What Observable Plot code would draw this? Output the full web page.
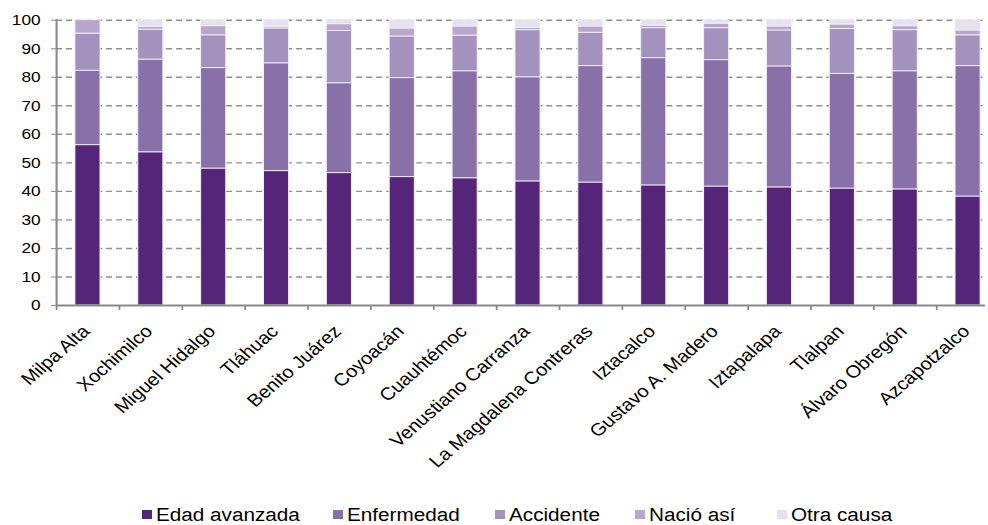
<!DOCTYPE html>
<html>
<head>
<meta charset="utf-8">
<script src="https://cdn.jsdelivr.net/npm/d3@7"></script>
<script src="https://cdn.jsdelivr.net/npm/@observablehq/plot@0.6"></script>
<style>
  html, body { margin: 0; padding: 0; background: #fff; }
  #wrap { width: 988px; position: relative; font-family: "Liberation Sans", Arial, sans-serif; }
  #legend { position: relative; width: 988px; height: 35px; }
  .item { position: absolute; top: 0; height: 35px; }
  .sw { position: absolute; top: 20px; left: 0; width: 10px; height: 9px; }
  .lab { position: absolute; top: 16px; left: 14px; font-size: 18px; line-height: 18px; white-space: nowrap;
         transform: scaleX(1.15); transform-origin: 0 0; color: #000; }
</style>
</head>
<body>
<div id="wrap"></div>
<script>
// ---- data ----
const districts = ["Milpa Alta","Xochimilco","Miguel Hidalgo","Tláhuac","Benito Juárez","Coyoacán","Cuauhtémoc","Venustiano Carranza","La Magdalena Contreras","Iztacalco","Gustavo A. Madero","Iztapalapa","Tlalpan","Álvaro Obregón","Azcapotzalco"];
const causes = ["Edad avanzada","Enfermedad","Accidente","Nació así","Otra causa"];
const edadAvanzada = [56.2,53.7,48.0,47.1,46.4,45.0,44.6,43.5,43.1,42.1,41.7,41.4,41.0,40.7,38.2];
const enfermedad   = [26.1,32.5,35.2,37.8,31.5,34.7,37.5,36.5,40.8,44.6,44.3,42.4,40.2,41.4,45.7];
const accidente    = [13.0,10.5,11.5,12.2,18.3,14.6,12.5,16.5,11.7,10.5,11.2,12.6,15.7,14.4,10.8];
const nacioAsi     = [4.7,1.0,3.2,0.6,2.4,2.8,3.2,0.8,2.2,0.9,1.6,1.4,1.6,1.4,1.7];
const otraCausa    = [0.0,2.3,2.1,2.3,1.4,2.9,2.2,2.7,2.2,1.9,1.2,2.2,1.5,2.1,3.6];
const yTicks = [0,10,20,30,40,50,60,70,80,90,100];
const colors = ["#55257a","#8870a8","#a492be","#b8a7cc","#e7e1ef"];

// ---- layout ----
const S = 1.15;              // horizontal stretch of the reference
const W = 988, H = 490;
const w = W / S;
const series = [edadAvanzada, enfermedad, accidente, nacioAsi, otraCausa];
const rows = [];
causes.forEach((c, ci) => districts.forEach((d, di) => rows.push({district: d, cause: c, value: series[ci][di]})));

const x0 = 56 / S, x1 = 999 / S;
const step = (x1 - x0) / districts.length;

const svg = Plot.plot({
  width: w,
  height: H,
  marginTop: 19.7,
  marginBottom: H - 305,
  marginLeft: x0,
  marginRight: w - 985 / S,
  style: {fontFamily: '"Liberation Sans", Arial, sans-serif', background: "#fff", color: "#000", overflow: "visible"},
  x: {type: "band", domain: districts, range: [x0, x1], paddingInner: 0.6, paddingOuter: 0.3, round: false, axis: null},
  y: {domain: [0, 100]},
  color: {domain: causes, range: colors},
  marks: [
    Plot.gridY(yTicks.slice(1), {stroke: "#8f8f8f", strokeOpacity: 1, strokeWidth: 1.4, strokeDasharray: "5.2,3.5"}),
    Plot.barY(rows, {x: "district", y: "value", fill: "cause", order: causes, stroke: "#f3eff7", strokeWidth: 0.9}),
    Plot.ruleY([0], {stroke: "#8a8a8a", strokeWidth: 2}),
    Plot.frame({anchor: "left", stroke: "#8a8a8a", strokeWidth: 1.8}),
    Plot.ruleX(districts, {x: d => d, y1: 0, y2: -5 / 2.853, dx: -step / 2, stroke: "#8a8a8a", strokeWidth: 1.5}),
    Plot.axisY({ticks: yTicks, tickSize: 5 / S, tickPadding: 9.5, fontSize: 15, label: null, stroke: "#8a8a8a", fill: "#000", tickFormat: d => String(d)}),
    Plot.text(districts, {x: d => d, y: 0, text: d => d, rotate: -45, textAnchor: "end", dx: -1.5, dy: 23, fontSize: 17.5, fill: "#000"})
  ]
});
svg.setAttribute("width", W);
svg.setAttribute("height", H);
svg.setAttribute("preserveAspectRatio", "none");
svg.style.width = W + "px";
svg.style.height = H + "px";
svg.style.maxWidth = "none";
svg.style.display = "block";
document.getElementById("wrap").appendChild(svg);

// ---- legend ----
const legendX = [142, 333, 495, 635, 777];
const legend = document.createElement("div");
legend.id = "legend";
causes.forEach((c, i) => {
  const item = document.createElement("div");
  item.className = "item";
  item.style.left = legendX[i] + "px";
  const sw = document.createElement("div");
  sw.className = "sw";
  sw.style.background = colors[i];
  const lab = document.createElement("div");
  lab.className = "lab";
  lab.textContent = c;
  item.appendChild(sw);
  item.appendChild(lab);
  legend.appendChild(item);
});
document.getElementById("wrap").appendChild(legend);
</script>
</body>
</html>
